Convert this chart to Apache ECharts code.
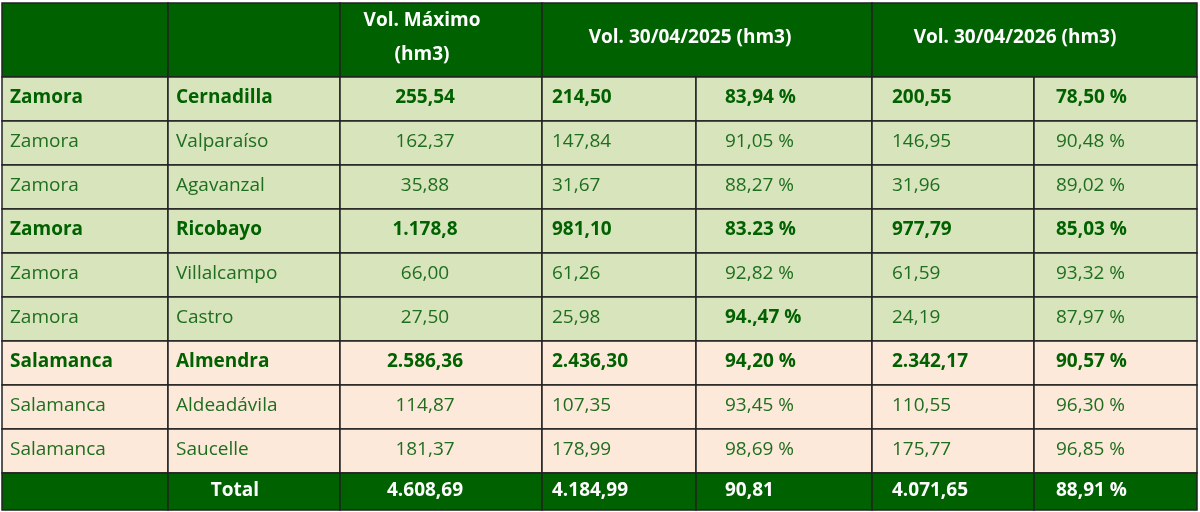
<!DOCTYPE html><html><head><meta charset="utf-8">
<script src="https://cdn.jsdelivr.net/npm/echarts@6/dist/echarts.min.js"></script>
<style>html,body{margin:0;padding:0;background:#fff}#c{width:1200px;height:512px}</style></head><body><div id="c"></div>
<script>
const provinces=["Zamora","Zamora","Zamora","Zamora","Zamora","Zamora","Salamanca","Salamanca","Salamanca"];
const dams=["Cernadilla","Valparaíso","Agavanzal","Ricobayo","Villalcampo","Castro","Almendra","Aldeadávila","Saucelle"];
const volMax=["255,54","162,37","35,88","1.178,8","66,00","27,50","2.586,36","114,87","181,37"];
const vol2025=["214,50","147,84","31,67","981,10","61,26","25,98","2.436,30","107,35","178,99"];
const pct2025=["83,94 %","91,05 %","88,27 %","83.23 %","92,82 %","94.,47 %","94,20 %","93,45 %","98,69 %"];
const vol2026=["200,55","146,95","31,96","977,79","61,59","24,19","2.342,17","110,55","175,77"];
const pct2026=["78,50 %","90,48 %","89,02 %","85,03 %","93,32 %","87,97 %","90,57 %","96,30 %","96,85 %"];
const boldRows=[true,false,false,true,false,false,true,false,false];
const totals=["Total","4.608,69","4.184,99","90,81","4.071,65","88,91 %"];
const headers=["Vol. Máximo\n(hm3)","Vol. 30/04/2025 (hm3)","Vol. 30/04/2026 (hm3)"];

const colX=[2,168,340,542,696,872,1034,1197];
const textX=[[10,'left'],[176,'left'],[425,'center'],[552,'left'],[725,'left'],[892,'left'],[1056,'left']];
const rowTop=3, headH=74, rowH=44, totH=37;
const FONT='"Open Sans", Lato, sans-serif';
const dark='#006100', green='#1f6e1f';

function rowY(i){return rowTop+headH+i*rowH;}
const items=[];
items.push({type:'head'});
for(let i=0;i<dams.length;i++)items.push({type:'row',i});
items.push({type:'total'});

function rectEl(api,x0,y0,x1,y1,fill){
  const p0=api.coord([x0,y0]),p1=api.coord([x1,y1]);
  return {type:'rect',shape:{x:p0[0],y:p0[1],width:p1[0]-p0[0],height:p1[1]-p0[1]},style:{fill,stroke:'#222',lineWidth:1.5}};
}
function textEl(api,x,y,t,align,color,bold){
  const p=api.coord([x,y]);
  return {type:'text',x:p[0],y:p[1],style:{text:t,align,verticalAlign:'middle',fill:color,font:(bold?'bold ':'')+'19px '+FONT,lineHeight:34}};
}
function render(params,api){
  const it=items[params.dataIndex];const ch=[];
  if(it.type==='head'){
    const y0=rowTop,y1=rowTop+headH,ym=(y0+y1)/2-2;
    [[0,1],[1,2],[2,3],[3,5],[5,7]].forEach(([a,b])=>ch.push(rectEl(api,colX[a],y0,colX[b],y1,dark)));
    ch.push(textEl(api,422,ym,headers[0],'center','#fff',true));
    ch.push(textEl(api,690,ym,headers[1],'center','#fff',true));
    ch.push(textEl(api,1015,ym,headers[2],'center','#fff',true));
  }else if(it.type==='row'){
    const i=it.i,y0=rowY(i),y1=y0+rowH,ym=(y0+y1)/2-1;
    const fill=provinces[i]==='Zamora'?'#d8e4bc':'#fde9d9';
    for(let c=0;c<7;c++)ch.push(rectEl(api,colX[c],y0,colX[c+1],y1,fill));
    const vals=[provinces[i],dams[i],volMax[i],vol2025[i],pct2025[i],vol2026[i],pct2026[i]];
    const b=boldRows[i];
    vals.forEach((v,c)=>{const bold=b||(i===5&&c===4);ch.push(textEl(api,textX[c][0],ym,v,textX[c][1],bold?dark:green,bold));});
  }else{
    const y0=rowY(dams.length),y1=y0+totH,ym=(y0+y1)/2-1;
    for(let c=0;c<7;c++)ch.push(rectEl(api,colX[c],y0,colX[c+1],y1,dark));
    ch.push(textEl(api,235,ym,totals[0],'center','#fff',true));
    totals.slice(1).forEach((v,k)=>ch.push(textEl(api,textX[k+2][0],ym,v,textX[k+2][1],'#fff',true)));
  }
  return {type:'group',children:ch};
}
const chart=echarts.init(document.getElementById('c'));
chart.setOption({animation:false,
  grid:{left:0,right:0,top:0,bottom:0},
  xAxis:{type:'value',min:0,max:1200,show:false},
  yAxis:{type:'value',min:0,max:512,inverse:true,show:false},
  series:[{type:'custom',renderItem:render,data:items.map((d,k)=>k),clip:false}]
});
</script></body></html>
